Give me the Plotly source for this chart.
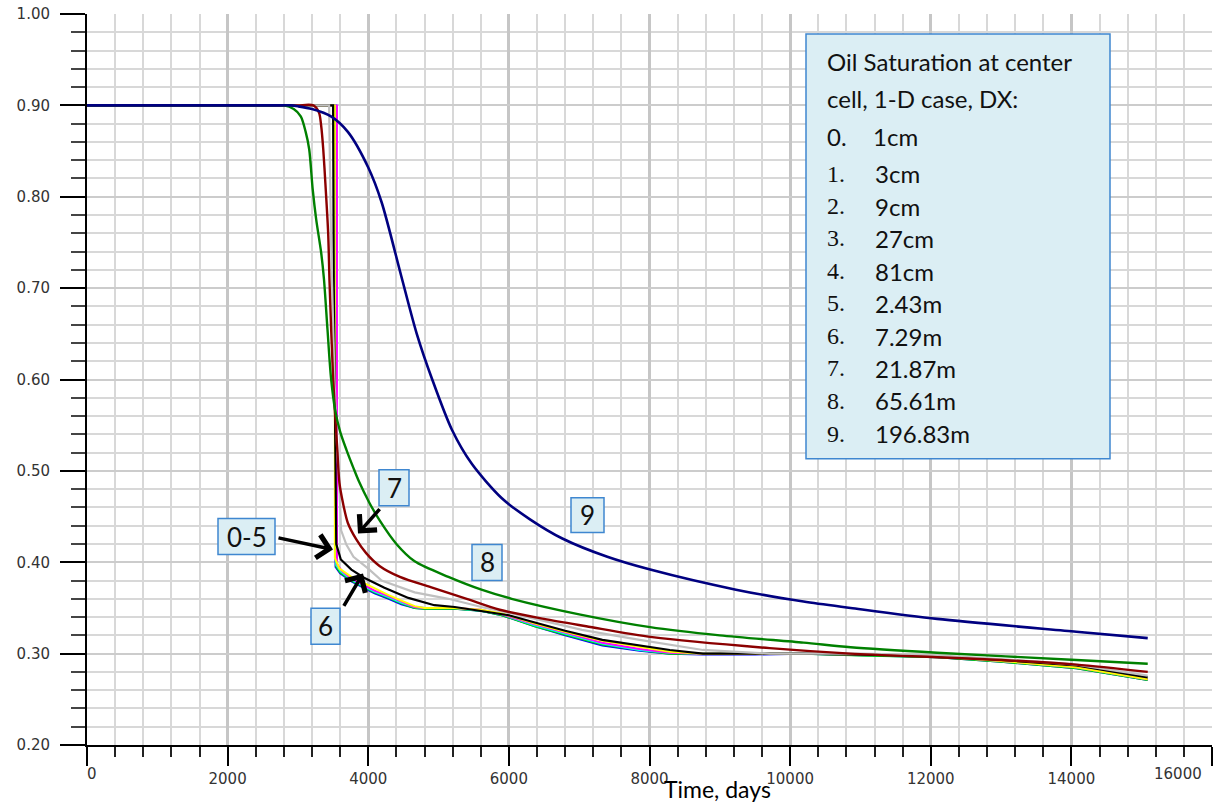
import plotly.graph_objects as go

# ---------------- data ----------------
series_names = ["0", "1", "2", "3", "4", "5", "6", "7", "8", "9"]
series_colors = ["#0000FF", "#00E000", "#00FFFF", "#FF00FF", "#FFFF00",
                 "#000000", "#C0C0C0", "#8B0000", "#008000", "#000080"]

t0 = [0, 3400, 3535, 3535, 3600, 3760, 3940, 4090, 4290, 4470, 4660, 4800, 5230, 5600, 5900,
      6370, 6800, 7330, 7860, 8290, 8760, 9500, 10190, 11000, 12090, 13000, 14070, 15086]
s0 = [0.900, 0.900, 0.900, 0.395, 0.388, 0.379, 0.372, 0.366, 0.360, 0.354, 0.350, 0.349, 0.349,
      0.347, 0.342, 0.330, 0.320, 0.309, 0.303, 0.300, 0.299, 0.299, 0.300, 0.298, 0.296, 0.291,
      0.284, 0.271]
t1 = [0, 3400, 3540, 3540, 3600, 3760, 3940, 4090, 4290, 4470, 4660, 4800, 5230, 5600, 5900,
      6370, 6800, 7330, 7860, 8290, 8760, 9500, 10190, 11000, 12090, 13000, 14070, 15086]
s1 = [0.900, 0.900, 0.900, 0.396, 0.389, 0.380, 0.373, 0.367, 0.361, 0.355, 0.350, 0.349, 0.349,
      0.347, 0.342, 0.330, 0.321, 0.310, 0.304, 0.300, 0.300, 0.300, 0.300, 0.298, 0.296, 0.291,
      0.284, 0.271]
t2 = [0, 3400, 3545, 3545, 3610, 3760, 3940, 4090, 4290, 4470, 4660, 4800, 5230, 5600, 5900,
      6370, 6800, 7330, 7860, 8290, 8760, 9500, 10190, 11000, 12090, 13000, 14070, 15086]
s2 = [0.900, 0.900, 0.900, 0.397, 0.390, 0.381, 0.374, 0.368, 0.362, 0.356, 0.351, 0.350, 0.350,
      0.347, 0.343, 0.331, 0.322, 0.311, 0.304, 0.301, 0.300, 0.300, 0.300, 0.299, 0.297, 0.292,
      0.285, 0.272]
t3 = [0, 3400, 3555, 3555, 3620, 3760, 3940, 4090, 4290, 4470, 4660, 4800, 5230, 5600, 5900,
      6370, 6800, 7330, 7860, 8290, 8760, 9500, 10190, 11000, 12090, 13000, 14070, 15086]
s3 = [0.900, 0.900, 0.900, 0.398, 0.391, 0.382, 0.375, 0.369, 0.363, 0.357, 0.351, 0.350, 0.350,
      0.348, 0.343, 0.332, 0.323, 0.312, 0.305, 0.301, 0.300, 0.300, 0.300, 0.299, 0.297, 0.292,
      0.285, 0.272]
t4 = [0, 3400, 3525, 3525, 3590, 3760, 3940, 4090, 4290, 4470, 4660, 4800, 5230, 5600, 5900,
      6370, 6800, 7330, 7860, 8290, 8760, 9500, 10190, 11000, 12090, 13000, 14070, 15086]
s4 = [0.900, 0.900, 0.900, 0.405, 0.393, 0.384, 0.377, 0.371, 0.364, 0.358, 0.352, 0.350, 0.350,
      0.348, 0.344, 0.333, 0.324, 0.314, 0.307, 0.302, 0.300, 0.300, 0.300, 0.299, 0.297, 0.292,
      0.285, 0.272]
t5 = [0, 3430, 3500, 3510, 3530, 3545, 3610, 3760, 3940, 4230, 4570, 4940, 5230, 5600, 6000,
      6370, 6800, 7330, 7860, 8290, 8760, 9500, 10190, 11000, 12090, 13000, 14070, 15086]
s5 = [0.900, 0.900, 0.900, 0.700, 0.500, 0.420, 0.403, 0.392, 0.383, 0.372, 0.361, 0.353, 0.351,
      0.347, 0.342, 0.334, 0.325, 0.315, 0.309, 0.304, 0.300, 0.300, 0.300, 0.299, 0.297, 0.293,
      0.287, 0.274]
t6 = [0, 3380, 3443, 3471, 3520, 3560, 3586, 3614, 3690, 3790, 4000, 4190, 4660, 5140, 5610,
      6040, 7040, 7860, 8760, 9710, 11000, 12090, 13000, 14070, 15086]
s6 = [0.900, 0.900, 0.900, 0.750, 0.600, 0.520, 0.490, 0.435, 0.419, 0.406, 0.393, 0.380, 0.367,
      0.360, 0.351, 0.344, 0.326, 0.315, 0.304, 0.300, 0.300, 0.298, 0.294, 0.288, 0.276]
t7 = [0, 1500, 2500, 2800, 3000, 3220, 3300, 3330, 3360, 3390, 3430, 3450, 3500, 3560, 3590,
      3640, 3710, 3830, 3970, 4160, 4450, 4920, 5400, 5870, 6500, 7100, 8040, 9710, 10860, 12090,
      13000, 14070, 15086]
s7 = [0.900, 0.900, 0.900, 0.900, 0.900, 0.900, 0.892, 0.878, 0.852, 0.815, 0.760, 0.705, 0.602,
      0.523, 0.487, 0.465, 0.443, 0.425, 0.410, 0.396, 0.384, 0.372, 0.360, 0.348, 0.338, 0.330,
      0.318, 0.306, 0.300, 0.296, 0.293, 0.288, 0.280]
t8 = [0, 1500, 2300, 2600, 2800, 2940, 3040, 3110, 3160, 3210, 3260, 3330, 3370, 3420, 3470,
      3530, 3600, 3690, 3790, 3870, 4010, 4160, 4400, 4660, 5140, 5610, 6040, 7000, 8010, 9000,
      10190, 10860, 12090, 14070, 15086]
s8 = [0.900, 0.900, 0.900, 0.900, 0.900, 0.896, 0.888, 0.871, 0.852, 0.808, 0.775, 0.739, 0.710,
      0.655, 0.602, 0.566, 0.543, 0.523, 0.503, 0.488, 0.466, 0.446, 0.420, 0.401, 0.384, 0.370,
      0.360, 0.343, 0.329, 0.320, 0.312, 0.307, 0.301, 0.293, 0.289]
t9 = [0, 1500, 2400, 2700, 2900, 3000, 3200, 3470, 3710, 4000, 4190, 4470, 4690, 4910, 5190,
      5470, 5900, 6300, 6760, 7400, 8010, 9230, 10190, 10860, 12090, 14070, 15086]
s9 = [0.900, 0.900, 0.900, 0.900, 0.900, 0.899, 0.896, 0.888, 0.871, 0.832, 0.794, 0.713, 0.650,
      0.600, 0.545, 0.508, 0.470, 0.447, 0.426, 0.406, 0.392, 0.370, 0.357, 0.350, 0.338, 0.324,
      0.317]

times = [t0, t1, t2, t3, t4, t5, t6, t7, t8, t9]
sats = [s0, s1, s2, s3, s4, s5, s6, s7, s8, s9]
widths = [2, 2, 2, 2, 2, 2.2, 2.2, 2.4, 2.4, 2.6]
shapes_kind = ["linear"] * 7 + ["spline"] * 3

x_tick_vals = [0, 2000, 4000, 6000, 8000, 10000, 12000, 14000, 16000]
x_tick_text = ["", "2000", "4000", "6000", "8000", "10000", "12000", "14000", ""]

legend_header = ["Oil Saturation at center", "cell, 1-D case, DX:"]
legend_nums = ["0.", "1.", "2.", "3.", "4.", "5.", "6.", "7.", "8.", "9."]
legend_sizes = ["1cm", "3cm", "9cm", "27cm", "81cm", "2.43m", "7.29m", "21.87m", "65.61m", "196.83m"]

# ---------------- layout geometry (pixels) ----------------
W, H = 1217, 805
L, R, T, B = 87, 5, 12, 60
PW, PH = W - L - R, H - T - B


def px(x):
    return (x - L) / PW


def py(y):
    return 1 - (y - T) / PH


fig = go.Figure()
for name, t, s, c, w, k in zip(series_names, times, sats, series_colors, widths, shapes_kind):
    line = dict(color=c, width=w, shape=k)
    if k == "spline":
        line["smoothing"] = 0.8
    fig.add_trace(go.Scatter(x=t, y=s, mode="lines", name=name, line=line,
                             hoverinfo="skip", showlegend=False))

tick_font = dict(family="DejaVu Sans", size=15, color="#333333")

fig.update_layout(
    width=W, height=H,
    margin=dict(l=L, r=R, t=T, b=B, pad=0),
    paper_bgcolor="white", plot_bgcolor="white",
    showlegend=False,
    xaxis=dict(range=[0, 16000], tickmode="array", tickvals=x_tick_vals, ticktext=x_tick_text,
               ticks="outside", ticklen=19, tickwidth=2, tickcolor="#000000",
               showline=True, linecolor="#000000", linewidth=2,
               showgrid=True, gridcolor="#c6c6c6", gridwidth=2.5, zeroline=False,
               tickfont=tick_font, ticklabelstandoff=0,
               minor=dict(tickmode="linear", tick0=0, dtick=400, ticks="outside", ticklen=10,
                          tickwidth=1.5, tickcolor="#222222", showgrid=True,
                          gridcolor="#d8d8d8", gridwidth=1.5)),
    yaxis=dict(range=[0.2, 1.0], tick0=0.2, dtick=0.1, tickformat=".2f",
               ticks="outside", ticklen=25, tickwidth=2, tickcolor="#000000",
               showline=True, linecolor="#000000", linewidth=2,
               showgrid=True, gridcolor="#cccccc", gridwidth=2, zeroline=False,
               tickfont=tick_font, ticklabelstandoff=7,
               minor=dict(tick0=0.2, dtick=0.02, ticks="outside", ticklen=14,
                          tickwidth=1.5, tickcolor="#444444", showgrid=True,
                          gridcolor="#d8d8d8", gridwidth=1.5)),
)

ann = []
# edge x tick labels shifted to stay inside the picture
ann.append(dict(x=px(92), y=py(774), xref="paper", yref="paper", text="0", showarrow=False,
                font=tick_font, xanchor="center", yanchor="middle"))
ann.append(dict(x=px(1178), y=py(774), xref="paper", yref="paper", text="16000", showarrow=False,
                font=tick_font, xanchor="center", yanchor="middle"))
# axis title
ann.append(dict(x=px(717), y=py(804), xref="paper", yref="paper", text="Time, days",
                showarrow=False, font=dict(family="Lato", size=23, color="#000000"),
                xanchor="center", yanchor="bottom", borderpad=0))

shapes = []
box_fill = "#DBEEF4"
box_line = "#3F87D0"
sans = "Lato"
# legend box
shapes.append(dict(type="rect", xref="paper", yref="paper", x0=px(806), x1=px(1110),
                   y0=py(32), y1=py(458), fillcolor=box_fill, line=dict(color=box_line, width=1.5),
                   layer="above"))
for i, txt in enumerate(legend_header):
    ann.append(dict(x=px(825), y=py([60, 97][i]), xref="paper", yref="paper", text=txt,
                    showarrow=False, font=dict(family=sans, size=24, color="#111111"),
                    xanchor="left", yanchor="middle"))
line_y = [135, 172, 205, 237, 270, 302, 335, 367, 400, 433]
for i, (n, sz) in enumerate(zip(legend_nums, legend_sizes)):
    fam, fs = (sans, 24) if i == 0 else ("Liberation Serif", 24)
    ann.append(dict(x=px(825), y=py(line_y[i]), xref="paper", yref="paper", text=n,
                    showarrow=False, font=dict(family=fam, size=fs, color="#111111"),
                    xanchor="left", yanchor="middle"))
    ann.append(dict(x=px(871 if i == 0 else 873), y=py(line_y[i]), xref="paper", yref="paper",
                    text=sz, showarrow=False, font=dict(family=sans, size=24, color="#111111"),
                    xanchor="left", yanchor="middle"))

# label boxes on the curves
label_boxes = [("9", 571, 497, 604, 532), ("8", 472, 544, 502, 580), ("7", 379, 469, 409, 505),
               ("0-5", 218, 518, 275, 554), ("6", 311, 608, 340, 644)]
for txt, x0, y0, x1, y1 in label_boxes:
    shapes.append(dict(type="rect", xref="paper", yref="paper", x0=px(x0), x1=px(x1),
                       y0=py(y0), y1=py(y1), fillcolor=box_fill,
                       line=dict(color=box_line, width=1.5), layer="above"))
    ann.append(dict(x=px((x0 + x1) / 2), y=py((y0 + y1) / 2), xref="paper", yref="paper",
                    text=txt, showarrow=False, font=dict(family=sans, size=26, color="#111111"),
                    xanchor="center", yanchor="middle"))

# arrows (head, tail) in pixels
arrows = [((333, 549), (277, 537)), ((358, 533), (381, 507)), ((363, 573), (343, 607))]
for (hx, hy), (tx, ty) in arrows:
    ann.append(dict(x=px(hx), y=py(hy), xref="paper", yref="paper", text="",
                    showarrow=True, arrowhead=4, arrowsize=1.3, arrowwidth=3.5,
                    arrowcolor="#000000", axref="pixel", ayref="pixel",
                    ax=tx - hx, ay=ty - hy, standoff=0))

fig.update_layout(annotations=ann, shapes=shapes)
fig.write_html("out.html")
